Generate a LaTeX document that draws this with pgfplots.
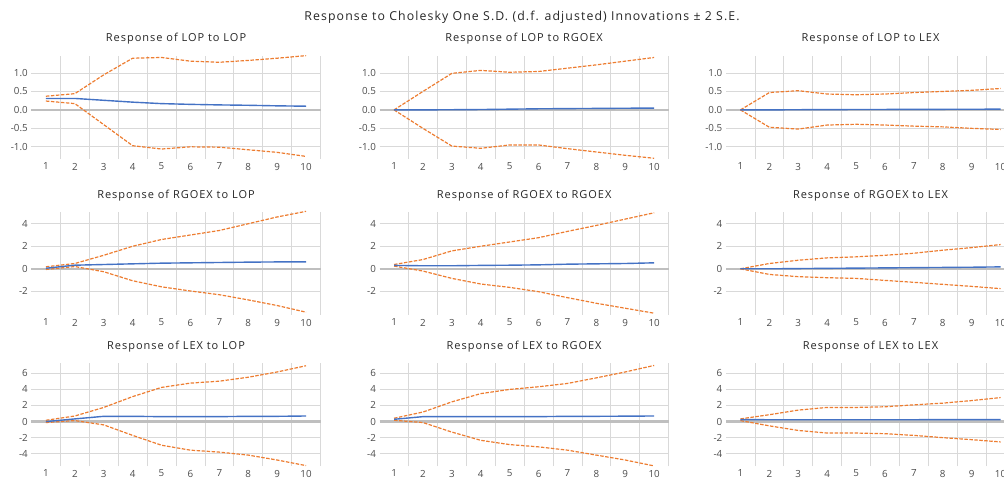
\documentclass[border=0pt]{standalone}
\usepackage{pgfplots}
\pgfplotsset{compat=1.18}
\usepackage{pgfplotstable}
\usepackage{fontspec}
\setmainfont{Open Sans}
\newfontfamily\lsfont{Open Sans}[LetterSpace=9]
\definecolor{xblue}{HTML}{4472C4}
\definecolor{xorange}{HTML}{ED7D31}
\definecolor{xgrid}{HTML}{D9D9D9}
\definecolor{xzero}{HTML}{BFBFBF}
\definecolor{xtext}{HTML}{595959}

% columns: x  b (response)  u (upper)  l (lower)
\pgfplotstableread{
x b u l
1 0.31 0.37 0.24
2 0.31 0.44 0.17
3 0.26 0.95 -0.40
4 0.21 1.40 -0.97
5 0.17 1.42 -1.06
6 0.15 1.32 -1.00
7 0.135 1.29 -1.01
8 0.125 1.34 -1.08
9 0.11 1.40 -1.15
10 0.10 1.47 -1.26
}\pA
\pgfplotstableread{
x b u l
1 0.0 0.0 0.0
2 0.0 0.50 -0.50
3 0.005 0.99 -0.98
4 0.01 1.07 -1.04
5 0.02 1.02 -0.95
6 0.03 1.04 -0.95
7 0.035 1.13 -1.05
8 0.04 1.22 -1.14
9 0.045 1.32 -1.23
10 0.05 1.42 -1.31
}\pB
\pgfplotstableread{
x b u l
1 0.0 0.0 0.0
2 0.0 0.47 -0.47
3 0.005 0.52 -0.52
4 0.008 0.43 -0.41
5 0.01 0.41 -0.39
6 0.012 0.43 -0.41
7 0.014 0.47 -0.44
8 0.016 0.50 -0.46
9 0.018 0.53 -0.50
10 0.02 0.58 -0.53
}\pC
\pgfplotstableread{
x b u l
1 0.05 0.18 -0.06
2 0.32 0.47 0.20
3 0.38 1.20 -0.26
4 0.44 2.00 -1.06
5 0.50 2.60 -1.60
6 0.53 3.00 -1.97
7 0.56 3.40 -2.30
8 0.59 4.00 -2.76
9 0.61 4.60 -3.26
10 0.62 5.10 -3.85
}\pD
\pgfplotstableread{
x b u l
1 0.30 0.38 0.24
2 0.27 0.82 -0.20
3 0.27 1.59 -0.85
4 0.30 2.00 -1.35
5 0.32 2.38 -1.65
6 0.35 2.76 -2.03
7 0.41 3.32 -2.56
8 0.44 3.85 -3.06
9 0.47 4.41 -3.50
10 0.53 4.97 -3.94
}\pE
\pgfplotstableread{
x b u l
1 0.0 0.0 0.0
2 0.0 0.47 -0.50
3 0.02 0.76 -0.70
4 0.04 0.97 -0.79
5 0.06 1.06 -0.85
6 0.08 1.20 -1.03
7 0.10 1.38 -1.20
8 0.12 1.65 -1.38
9 0.14 1.88 -1.56
10 0.17 2.15 -1.76
}\pF
\pgfplotstableread{
x b u l
1 0.0 0.16 -0.12
2 0.33 0.69 0.12
3 0.65 1.75 -0.41
4 0.65 3.09 -1.71
5 0.61 4.23 -2.93
6 0.61 4.76 -3.54
7 0.61 5.00 -3.78
8 0.65 5.49 -4.15
9 0.65 6.14 -4.76
10 0.69 6.91 -5.45
}\pG
\pgfplotstableread{
x b u l
1 0.28 0.41 0.16
2 0.61 1.18 -0.12
3 0.61 2.44 -1.30
4 0.61 3.46 -2.32
5 0.61 3.98 -2.85
6 0.61 4.31 -3.13
7 0.65 4.72 -3.54
8 0.65 5.41 -4.15
9 0.67 6.14 -4.76
10 0.69 6.95 -5.49
}\pH
\pgfplotstableread{
x b u l
1 0.24 0.33 0.12
2 0.23 0.85 -0.53
3 0.23 1.42 -1.10
4 0.23 1.75 -1.42
5 0.23 1.75 -1.42
6 0.23 1.83 -1.50
7 0.23 2.07 -1.71
8 0.24 2.28 -1.99
9 0.24 2.60 -2.24
10 0.24 2.97 -2.52
}\pI

\pgfplotsset{
  irf/.style={
    scale only axis, width=289pt, height=103pt,
    anchor=south west,
    xmin=0.5, xmax=10.5,
    xtick={1,...,10},
    minor xtick={1.5,2.5,...,10.5},
    xminorgrids=true, ymajorgrids=true,
    grid style={xgrid, line width=0.8pt},
    minor grid style={xgrid, line width=0.8pt},
    major grid style={xgrid, line width=0.8pt},
    axis line style={draw=none},
    tick style={draw=none},
    /pgf/number format/assume math mode=true,
    tick label style={font=\fontsize{9.8}{11}\selectfont, text=black!70, inner sep=0pt},
    xticklabel style={yshift=-3.8pt},
    yticklabel style={xshift=-3.5pt},
    extra y ticks={0}, extra y tick labels={},
    extra y tick style={grid=major, major grid style={xzero, line width=2.2pt}},
    title style={at={(0.5,1)}, anchor=base, yshift=8pt,
      font=\lsfont\fontsize{11}{13}\selectfont, text=black!85},
    clip=false,
  },
  row1/.style={ymin=-1.33, ymax=1.46, ytick={-1,-0.5,0,0.5,1},
    yticklabels={-1.0,-0.5,0.0,0.5,1.0}},
  row2/.style={ymin=-4.1, ymax=5.04, ytick={-2,0,2,4},
    yticklabels={-2,0,2,4}},
  row3/.style={ymin=-5.5, ymax=7.25, ytick={-4,-2,0,2,4,6},
    yticklabels={-4,-2,0,2,4,6}},
  bl/.style={xblue, line width=1.4pt},
  ol/.style={xorange, line width=1.2pt, dash pattern=on 3.5pt off 1.5pt},
}

\begin{document}
\begin{tikzpicture}[x=1pt,y=1pt]
\node[font=\lsfont\fontsize{12.3}{14}\selectfont, text=black!85] at (522pt,460pt) {Response to Cholesky One S.D. (d.f. adjusted) Innovations ± 2 S.E.};

% Row 1
\begin{axis}[irf, row1, at={(31.5pt,318pt)}, title={Response of LOP to LOP}]
\addplot[ol] table[x=x,y=u] {\pA};
\addplot[ol] table[x=x,y=l] {\pA};
\addplot[bl] table[x=x,y=b] {\pA};
\end{axis}
\begin{axis}[irf, row1, at={(379.6pt,318pt)}, title={Response of LOP to RGOEX}]
\addplot[ol] table[x=x,y=u] {\pB};
\addplot[ol] table[x=x,y=l] {\pB};
\addplot[bl] table[x=x,y=b] {\pB};
\end{axis}
\begin{axis}[irf, row1, at={(726pt,318pt)}, title={Response of LOP to LEX}]
\addplot[ol] table[x=x,y=u] {\pC};
\addplot[ol] table[x=x,y=l] {\pC};
\addplot[bl] table[x=x,y=b] {\pC};
\end{axis}

% Row 2
\begin{axis}[irf, row2, at={(31.5pt,162pt)}, title={Response of RGOEX to LOP}]
\addplot[ol] table[x=x,y=u] {\pD};
\addplot[ol] table[x=x,y=l] {\pD};
\addplot[bl] table[x=x,y=b] {\pD};
\end{axis}
\begin{axis}[irf, row2, at={(379.6pt,162pt)}, title={Response of RGOEX to RGOEX}]
\addplot[ol] table[x=x,y=u] {\pE};
\addplot[ol] table[x=x,y=l] {\pE};
\addplot[bl] table[x=x,y=b] {\pE};
\end{axis}
\begin{axis}[irf, row2, at={(726pt,162pt)}, title={Response of RGOEX to LEX}]
\addplot[ol] table[x=x,y=u] {\pF};
\addplot[ol] table[x=x,y=l] {\pF};
\addplot[bl] table[x=x,y=b] {\pF};
\end{axis}

% Row 3
\begin{axis}[irf, row3, at={(31.5pt,11pt)}, title={Response of LEX to LOP}]
\addplot[ol] table[x=x,y=u] {\pG};
\addplot[ol] table[x=x,y=l] {\pG};
\addplot[bl] table[x=x,y=b] {\pG};
\end{axis}
\begin{axis}[irf, row3, at={(379.6pt,11pt)}, title={Response of LEX to RGOEX}]
\addplot[ol] table[x=x,y=u] {\pH};
\addplot[ol] table[x=x,y=l] {\pH};
\addplot[bl] table[x=x,y=b] {\pH};
\end{axis}
\begin{axis}[irf, row3, at={(726pt,11pt)}, title={Response of LEX to LEX}]
\addplot[ol] table[x=x,y=u] {\pI};
\addplot[ol] table[x=x,y=l] {\pI};
\addplot[bl] table[x=x,y=b] {\pI};
\end{axis}

\pgfresetboundingbox
\path[use as bounding box] (0pt,0pt) rectangle (1004pt,477pt);
\end{tikzpicture}
\end{document}
